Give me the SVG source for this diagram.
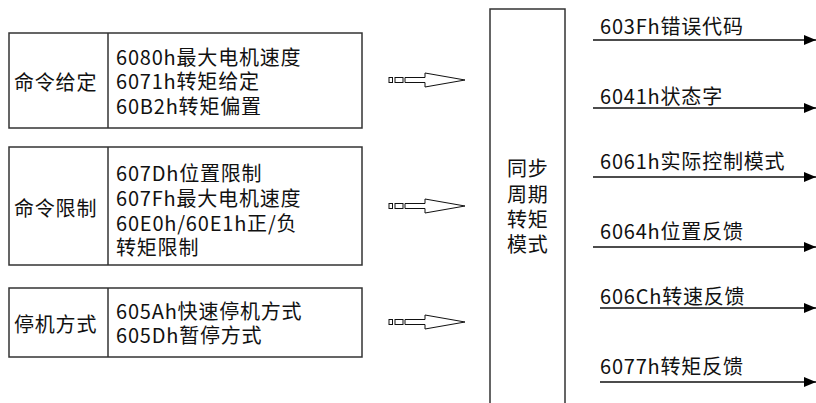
<svg xmlns="http://www.w3.org/2000/svg" width="816" height="403" viewBox="0 0 816 403">
<style>
text{font-family:"Noto Sans CJK SC","Noto Sans",sans-serif;font-size:20px;letter-spacing:0.8px;fill:#111;dominant-baseline:central}
.box{fill:#fff;stroke:#333;stroke-width:1.5}
.ln{stroke:#111;stroke-width:1.5;fill:none}
.ho{fill:#fff;stroke:#111;stroke-width:1}
</style>
<defs>
<marker id="ah" markerWidth="12" markerHeight="10" refX="12" refY="5" orient="auto" markerUnits="userSpaceOnUse">
<path d="M0,0 L12,5 L0,10 Z" fill="#000"/>
</marker>
<g id="hollow">
<rect class="ho" x="389" y="-2.5" width="3.5" height="5"/>
<rect class="ho" x="395" y="-2.5" width="8" height="5"/>
<path class="ho" d="M405,-2.5 L425,-2.5 L425,-7 L465,0 L425,7 L425,2.5 L405,2.5 Z"/>
</g>
</defs>
<g id="node-cmd">
<rect class="box" x="9" y="33" width="353" height="95"/>
<line class="box" x1="108" y1="33" x2="108" y2="128"/>
<text x="14" y="81">命令给定</text>
<text x="116" y="56">6080h最大电机速度</text>
<text x="116" y="80">6071h转矩给定</text>
<text x="116" y="105">60B2h转矩偏置</text>
</g>
<g id="node-limit">
<rect class="box" x="9" y="147" width="353" height="118"/>
<line class="box" x1="108" y1="147" x2="108" y2="265"/>
<text x="14" y="207">命令限制</text>
<text x="116" y="172">607Dh位置限制</text>
<text x="116" y="197">607Fh最大电机速度</text>
<text x="116" y="222">60E0h/60E1h正/负</text>
<text x="116" y="246">转矩限制</text>
</g>
<g id="node-stop">
<rect class="box" x="9" y="288" width="353" height="69"/>
<line class="box" x1="108" y1="288" x2="108" y2="357"/>
<text x="14" y="323">停机方式</text>
<text x="116" y="310">605Ah快速停机方式</text>
<text x="116" y="334">605Dh暂停方式</text>
</g>
<g id="node-mode">
<rect class="box" x="490" y="9" width="75" height="400"/>
<text x="507" y="167">同步</text>
<text x="507" y="193">周期</text>
<text x="507" y="218">转矩</text>
<text x="507" y="243">模式</text>
</g>
<g id="connectors">
<use href="#hollow" y="80"/>
<use href="#hollow" y="206"/>
<use href="#hollow" y="322"/>
<line class="ln" x1="593" y1="40" x2="816" y2="40" marker-end="url(#ah)"/>
<line class="ln" x1="593" y1="108" x2="816" y2="108" marker-end="url(#ah)"/>
<line class="ln" x1="593" y1="177" x2="816" y2="177" marker-end="url(#ah)"/>
<line class="ln" x1="593" y1="247" x2="816" y2="247" marker-end="url(#ah)"/>
<line class="ln" x1="600" y1="308" x2="816" y2="308" marker-end="url(#ah)"/>
<line class="ln" x1="600" y1="382" x2="816" y2="382" marker-end="url(#ah)"/>
<text x="600" y="25">603Fh错误代码</text>
<text x="600" y="95">6041h状态字</text>
<text x="600" y="160">6061h实际控制模式</text>
<text x="600" y="230">6064h位置反馈</text>
<text x="600" y="295">606Ch转速反馈</text>
<text x="600" y="365">6077h转矩反馈</text>
</g>
</svg>
